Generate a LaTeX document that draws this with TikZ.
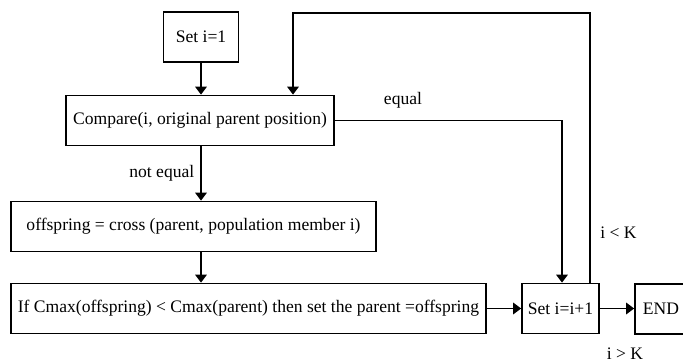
\documentclass[tikz,border=0pt]{standalone}
\usepackage{fontspec}
\setmainfont{Liberation Serif}
\usepackage{tikz}
\usetikzlibrary{arrows.meta,calc}

\begin{document}
\begin{tikzpicture}[x=0.02cm, y=-0.02cm, >={Triangle[width=6.5pt,length=4.5pt]},
        line width=1pt, font=\fontsize{10}{12}\selectfont,
        box/.style={draw, inner sep=0pt, minimum height=1cm}]
        \useasboundingbox (0,0) rectangle (683,364);
        \node[box, minimum width=1.5cm]  (set1)   at (201,37)    {Set i=1};
        \node[box, minimum width=5.36cm] (comp)   at (200,120.5) {Compare(i, original parent position)};
        \node[box, minimum width=7.3cm]  (offs)   at (193.5,226.5) {offspring = cross (parent, population member i)};
        \node[box, minimum width=9.5cm]  (ifb)    at (248.5,308.5) {If Cmax(offspring) < Cmax(parent) then set the parent =offspring};
        \node[box, minimum width=1.54cm] (setinc) at (560.5,308.5) {Set i=i+1};
        \node[box, minimum width=1.04cm] (endb)   at (661,309)   {END};
        \coordinate (loopR) at (590,13);
        \coordinate (loopL) at (293,13);
        \coordinate (eqR) at (562,120.5);
        \draw[->] (set1.south) -- (set1.south |- comp.north);
        \draw[->] (comp.south -| set1.south) -- node[left, pos=0.5] {not equal} (offs.north -| set1.south);
        \draw[->] (offs.south -| set1.south) -- (ifb.north -| set1.south);
        \draw[->] (comp.east) -- node[above=3pt, pos=0.3] {equal} (eqR) -- (eqR |- setinc.north);
        \draw[->] (setinc.north -| loopR) -- node[right=2pt, pos=0.185] {i < K} (loopR) -- (loopL) -- (loopL |- comp.north);
        \draw[->] (ifb.east) -- (setinc.west);
        \draw[->] (setinc.east) -- (setinc.east -| endb.west);
        \node (gtK) at (625,354) {i > K};
    \end{tikzpicture}
\end{document}
